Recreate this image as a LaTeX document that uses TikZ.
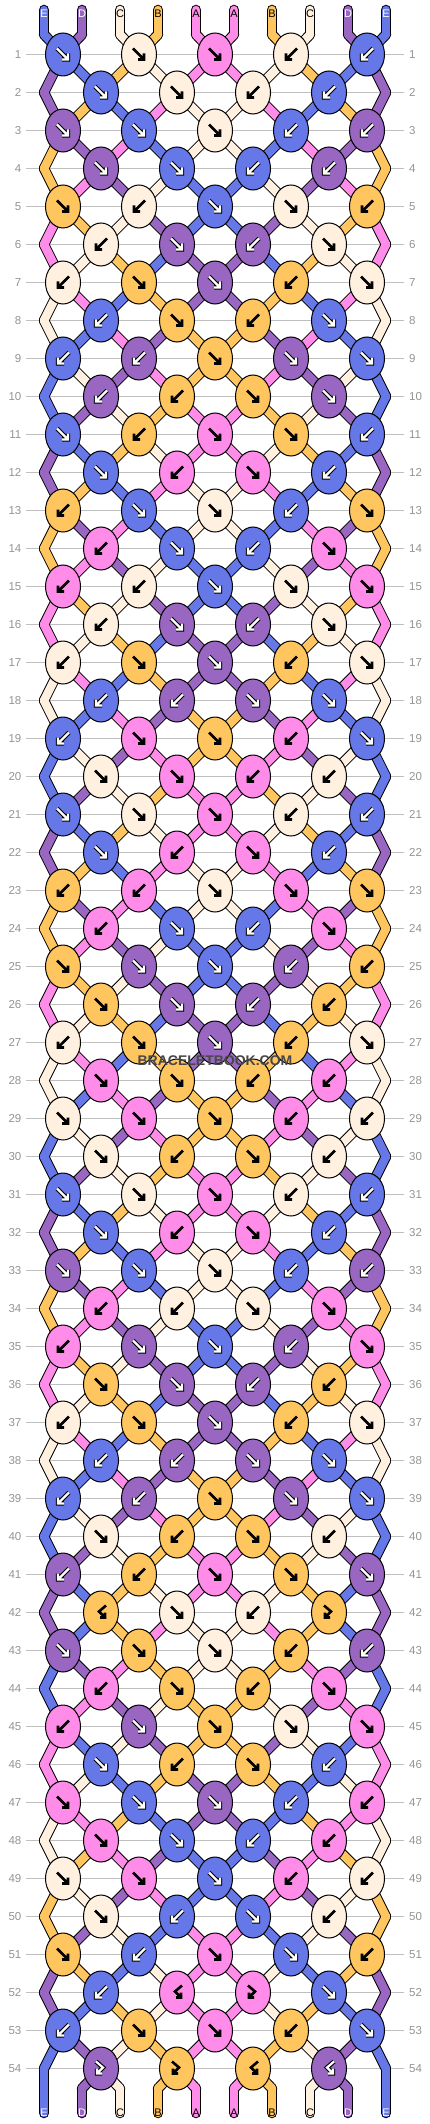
\documentclass[tikz,border=0pt]{standalone}
\usepackage{fontspec}
\setmainfont{Liberation Sans}
\usetikzlibrary{shapes.geometric}

\definecolor{colA}{HTML}{FF8CE8}
\definecolor{colB}{HTML}{FFC55E}
\definecolor{colC}{HTML}{FFF0E0}
\definecolor{colD}{HTML}{9966C2}
\definecolor{colE}{HTML}{6677E8}
\def\darkD{}\def\darkE{}

\tikzset{
  knot/.style={ellipse, draw=black, line width=1pt, minimum width=35pt, minimum height=43pt, inner sep=0pt},
  strout/.style={draw=black, line width=10.5pt, line cap=round, line join=round},
  strin/.style={line width=8.5pt, line cap=round, line join=round},
  rowline/.style={draw=black!25, line width=1pt},
  rownum/.style={text=black!42, font=\fontsize{11.5}{12}\selectfont, inner sep=0pt},
  lettxt/.code={\ifcsname dark#1\endcsname\pgfkeysalso{text=white}\else\pgfkeysalso{text=black}\fi
    \pgfkeysalso{font=\fontsize{11}{12}\selectfont, inner sep=0pt}},
  arwbg/.code={\ifcsname dark#1\endcsname\pgfkeysalso{draw=black,line width=4.4pt}\else\pgfkeysalso{draw=black,line width=2.6pt}\fi},
  arwfg/.code={\ifcsname dark#1\endcsname\pgfkeysalso{draw=white,line width=2.2pt}\else\pgfkeysalso{draw=none}\fi},
  % pics are not flipped by yscale, so y points up here
  pics/arrR/.style={code={\draw[pic actions, line join=miter] (-6,6) -- (5,-5) (-1,-5) -- (5,-5) -- (5,1);}},
  pics/arrL/.style={code={\draw[pic actions, line join=miter] (6,6) -- (-5,-5) (1,-5) -- (-5,-5) -- (-5,1);}},
  pics/arrF/.style={code={\draw[pic actions, line join=miter] (-5,7) -- (2,1) -- (-4,-5) (-4,0) -- (-4,-5) -- (1,-5);}},
  pics/arrB/.style={code={\draw[pic actions, line join=miter] (5,7) -- (-2,1) -- (4,-5) (4,0) -- (4,-5) -- (-1,-5);}},
}

% string order after each row
\def\orders{0/{E,D,C,B,A,A,B,C,D,E},1/{D,E,B,C,A,A,C,B,E,D},2/{D,B,E,A,C,C,A,E,B,D},3/{B,D,A,E,C,C,E,A,D,B},
4/{B,A,D,C,E,E,C,D,A,B},5/{A,B,C,D,E,E,D,C,B,A},6/{A,C,B,E,D,D,E,B,C,A},7/{C,A,E,B,D,D,B,E,A,C},
8/{C,E,A,D,B,B,D,A,E,C},9/{E,C,D,A,B,B,A,D,C,E},
10/{E,D,C,B,A,A,B,C,D,E},11/{D,E,B,C,A,A,C,B,E,D},12/{D,B,E,A,C,C,A,E,B,D},13/{B,D,A,E,C,C,E,A,D,B},
14/{B,A,D,C,E,E,C,D,A,B},15/{A,B,C,D,E,E,D,C,B,A},16/{A,C,B,E,D,D,E,B,C,A},17/{C,A,E,B,D,D,B,E,A,C},
18/{C,E,A,D,B,B,D,A,E,C},19/{E,C,D,A,B,B,A,D,C,E},
20/{E,D,C,B,A,A,B,C,D,E},21/{D,E,B,C,A,A,C,B,E,D},22/{D,B,E,A,C,C,A,E,B,D},23/{B,D,A,E,C,C,E,A,D,B},
24/{B,A,D,C,E,E,C,D,A,B},25/{A,B,C,D,E,E,D,C,B,A},26/{A,C,B,E,D,D,E,B,C,A},27/{C,A,E,B,D,D,B,E,A,C},
28/{C,E,A,D,B,B,D,A,E,C},29/{E,C,D,A,B,B,A,D,C,E},
30/{E,D,C,B,A,A,B,C,D,E},31/{D,E,B,C,A,A,C,B,E,D},32/{D,B,E,A,C,C,A,E,B,D},33/{B,D,A,E,C,C,E,A,D,B},
34/{B,A,D,C,E,E,C,D,A,B},35/{A,B,C,D,E,E,D,C,B,A},36/{A,C,B,E,D,D,E,B,C,A},37/{C,A,E,B,D,D,B,E,A,C},
38/{C,E,A,D,B,B,D,A,E,C},39/{E,C,D,A,B,B,A,D,C,E},
40/{E,D,C,B,A,A,B,C,D,E},41/{D,E,B,C,A,A,C,B,E,D},42/{D,E,B,A,C,C,A,B,E,D},43/{E,D,A,B,C,C,B,A,D,E},
44/{E,A,D,C,B,B,C,D,A,E},45/{A,E,C,D,B,B,D,C,E,A},46/{A,C,E,B,D,D,B,E,C,A},47/{C,A,B,E,D,D,E,B,A,C},
48/{C,B,A,D,E,E,D,A,B,C},49/{B,C,D,A,E,E,A,D,C,B},50/{B,D,C,E,A,A,E,C,D,B},51/{D,B,E,C,A,A,C,E,B,D},
52/{D,E,B,C,A,A,C,B,E,D},53/{E,D,C,B,A,A,B,C,D,E},54/{E,D,C,B,A,A,B,C,D,E}}

% knot colour / knot type per row
\def\knots{1/{E/R,C/R,A/R,C/L,E/L},2/{E/R,C/R,C/L,E/L},3/{D/R,E/R,C/R,E/L,D/L},4/{D/R,E/R,E/L,D/L},
5/{B/R,C/L,E/R,C/R,B/L},6/{C/L,D/R,D/L,C/R},7/{C/L,B/R,D/R,B/L,C/R},8/{E/L,B/R,B/L,E/R},
9/{E/L,D/L,B/R,D/R,E/R},10/{D/L,B/L,B/R,D/R},11/{E/R,B/L,A/R,B/R,E/L},12/{E/R,A/L,A/R,E/L},
13/{B/L,E/R,C/R,E/L,B/R},14/{A/L,E/R,E/L,A/R},15/{A/L,C/L,E/R,C/R,A/R},16/{C/L,D/R,D/L,C/R},
17/{C/L,B/R,D/R,B/L,C/R},18/{E/L,D/L,D/R,E/R},19/{E/L,A/R,B/R,A/L,E/R},20/{C/R,A/R,A/L,C/L},
21/{E/R,C/R,A/R,C/L,E/L},22/{E/R,A/L,A/R,E/L},23/{B/L,A/L,C/R,A/R,B/R},24/{A/L,E/R,E/L,A/R},
25/{B/R,D/R,E/R,D/L,B/L},26/{B/R,D/R,D/L,B/L},27/{C/L,B/R,D/R,B/L,C/R},28/{A/R,B/R,B/L,A/L},
29/{C/R,A/R,B/R,A/L,C/L},30/{C/R,B/L,B/R,C/L},31/{E/R,C/R,A/R,C/L,E/L},32/{E/R,A/L,A/R,E/L},
33/{D/R,E/R,C/R,E/L,D/L},34/{A/L,C/L,C/R,A/R},35/{A/L,D/R,E/R,D/L,A/R},36/{B/R,D/R,D/L,B/L},
37/{C/L,B/R,D/R,B/L,C/R},38/{E/L,D/L,D/R,E/R},39/{E/L,D/L,B/R,D/R,E/R},40/{C/R,B/L,B/R,C/L},
41/{D/L,B/L,A/R,B/R,D/R},42/{B/B,C/R,C/L,B/F},43/{D/R,B/R,C/R,B/L,D/L},44/{A/L,B/R,B/L,A/R},
45/{A/L,D/R,B/R,C/R,A/R},46/{E/R,B/L,B/R,E/L},47/{A/R,E/R,D/R,E/L,A/L},48/{A/R,E/R,E/L,A/L},
49/{C/R,A/R,E/R,A/L,C/L},50/{C/R,E/L,E/R,C/L},51/{B/R,E/L,A/R,E/R,B/L},52/{E/L,A/B,A/F,E/R},
53/{E/L,B/R,A/R,B/L,E/R},54/{D/F,B/F,B/B,D/B}}

\begin{document}
\begin{tikzpicture}[x=1pt,y=1pt,yscale=-1]
\fill[white] (0,0) rectangle (430,2124);
\useasboundingbox (0,0) rectangle (430,2124);

% string points: level 0 = top, 55 = bottom
\foreach \r in {0,...,55}{
  \foreach \p in {1,...,10}{
    \pgfmathsetmacro\sx{(\r==0||\r==55) ? 44+38*(\p-1) : (mod(\r,2)==1 ? 63+76*int((\p-1)/2) : (\p==1 ? 44 : (\p==10 ? 386 : 25+76*int(\p/2))))}
    \pgfmathsetmacro\sy{\r==0 ? 34.5 : (\r==55 ? 2088.5 : 54.5+38*(\r-1))}
    \coordinate (s-\r-\p) at (\sx,\sy);
  }
}
\foreach \p in {1,...,10}{
  \coordinate (t-\p) at ({44+38*(\p-1)},10);
  \coordinate (b-\p) at ({44+38*(\p-1)},2113);
}

% row lines and numbers
\foreach \r in {1,...,54}{
  \pgfmathsetmacro\yy{54.5+38*(\r-1)}
  \coordinate (gl-\r) at (26,\yy);
  \coordinate (gr-\r) at (404,\yy);
  \draw[rowline] (gl-\r) -- (gr-\r);
  \node[rownum, anchor=east] (nl-\r) at (21.5,\yy) {\r};
  \node[rownum, anchor=west] (nr-\r) at (409,\yy) {\r};
}

% strings, outline then colour
\foreach \c [count=\p] in {E,D,C,B,A,A,B,C,D,E}{
  \draw[strout] (t-\p) -- (s-0-\p);
  \draw[strout] (s-55-\p) -- (b-\p);
}
\foreach \r/\ord in \orders{
  \pgfmathtruncatemacro\rn{\r+1}
  \foreach \c [count=\p] in \ord{\draw[strout] (s-\r-\p) -- (s-\rn-\p);}
}
\foreach \c [count=\p] in {E,D,C,B,A,A,B,C,D,E}{
  \draw[strin, draw=col\c] (t-\p) -- (s-0-\p);
  \draw[strin, draw=col\c] (s-55-\p) -- (b-\p);
}
\foreach \r/\ord in \orders{
  \pgfmathtruncatemacro\rn{\r+1}
  \foreach \c [count=\p] in \ord{\draw[strin, draw=col\c] (s-\r-\p) -- (s-\rn-\p);}
}

% string letters
\foreach \c [count=\p] in {E,D,C,B,A,A,B,C,D,E}{
  \node[lettxt=\c] (lt-\p) at ({44+38*(\p-1)},13.5) {\c};
  \node[lettxt=\c] (lb-\p) at ({44+38*(\p-1)},2112.5) {\c};
}

% knots
\foreach \r/\kl in \knots{
  \foreach \c/\t [count=\k] in \kl{
    \pgfmathtruncatemacro\pp{mod(\r,2)==1 ? 2*\k-1 : 2*\k}
    \node[knot, fill=col\c] (k-\r-\k) at (s-\r-\pp) {};
    \pic[arwbg=\c] at (k-\r-\k) {arr\t};
    \pic[arwfg=\c] at (k-\r-\k) {arr\t};
  }
}

% Text Node
\node[font=\bfseries\fontsize{14}{14}\selectfont, text=black!72, inner sep=0pt] (wm) at (215,1061) {BRACELETBOOK.COM};
\end{tikzpicture}
\end{document}
